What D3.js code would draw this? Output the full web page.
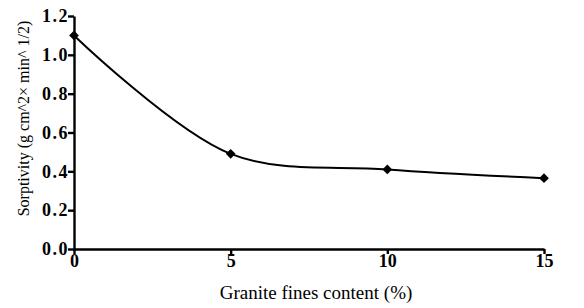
<!DOCTYPE html>
<html>
<head>
<meta charset="utf-8">
<script src="https://cdn.jsdelivr.net/npm/d3@7"></script>
<style>
  body { margin: 0; background: #fff; }
</style>
</head>
<body>
<div id="chart"></div>
<script>
// data
var fines = [0, 5, 10, 15];
var sorptivity = [1.1, 0.49, 0.41, 0.365];
var xTicks = [0, 5, 10, 15];
var yTicks = [0.0, 0.2, 0.4, 0.6, 0.8, 1.0, 1.2];

var width = 584, height = 308;
var margin = {top: 16, right: 40, bottom: 59, left: 74};
var serif = "Liberation Serif";

var svg = d3.select("#chart")
    .append("svg")
    .attr("width", width)
    .attr("height", height);

var x = d3.scaleLinear().domain([0, 15]).range([margin.left, width - margin.right]);
var y = d3.scaleLinear().domain([0, 1.2]).range([height - margin.bottom, margin.top]);

var xAxis = d3.axisBottom(x).tickValues(xTicks).tickSize(5).tickSizeOuter(0).tickPadding(0).tickFormat(d3.format("d"));
var yAxis = d3.axisLeft(y).tickValues(yTicks).tickSize(6).tickSizeOuter(0).tickPadding(-1).tickFormat(d3.format(".1f"));

var gx = svg.append("g")
    .attr("transform", "translate(0," + (height - margin.bottom) + ")")
    .call(xAxis);
var gy = svg.append("g")
    .attr("transform", "translate(" + margin.left + ",0)")
    .call(yAxis);

[gx, gy].forEach(function (g) {
    g.attr("font-family", serif).attr("font-size", 18).attr("font-weight", "bold");
    g.selectAll("path, line").attr("stroke", "#000").attr("stroke-width", 2.4);
    g.selectAll("text").attr("fill", "#000");
});
gy.selectAll("text").attr("letter-spacing", 1.5);

// the curve
var pts = fines.map(function (f, i) { return [f, sorptivity[i]]; });
var line = d3.line()
    .x(function (d) { return x(d[0]); })
    .y(function (d) { return y(d[1]); })
    .curve(d3.curveCatmullRom.alpha(0.5));

svg.append("path")
    .datum(pts)
    .attr("d", line)
    .attr("fill", "none")
    .attr("stroke", "#000")
    .attr("stroke-width", 2);

svg.selectAll(".pt")
    .data(pts)
    .enter()
    .append("path")
    .attr("class", "pt")
    .attr("d", d3.symbol().type(d3.symbolDiamond2).size(60))
    .attr("transform", function (d) { return "translate(" + x(d[0]) + "," + y(d[1]) + ")"; })
    .attr("fill", "#000");

// axis titles
svg.append("text")
    .attr("x", (x(0) + x(15)) / 2 + 7)
    .attr("y", 299)
    .attr("text-anchor", "middle")
    .attr("font-family", serif)
    .attr("font-size", 19)
    .text("Granite fines content (%)");

svg.append("text")
    .attr("transform", "translate(29," + (y(0.6) - 14) + ") rotate(-90)")
    .attr("text-anchor", "middle")
    .attr("font-family", serif)
    .attr("font-size", 16)
    .text("Sorptivity (g cm^2× min^ 1/2)");
</script>
</body>
</html>
